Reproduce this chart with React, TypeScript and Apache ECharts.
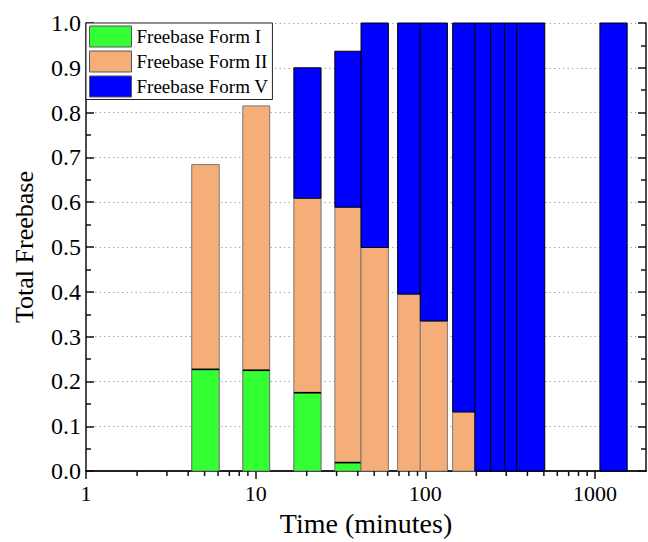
import React, { useEffect, useRef } from 'react';
import * as echarts from 'echarts';

// Bar extents on the time axis (minutes)
const barStart = [4.2, 8.4, 16.8, 29.3, 41.8, 68.7, 93.4, 145, 196, 243, 294, 346, 1070];
const barEnd = [6.1, 12.1, 24.3, 41.8, 60.6, 93.4, 135, 196, 243, 294, 346, 506, 1549];

// Fraction of each form (stacked)
const formI = [0.227, 0.225, 0.175, 0.019, 0, 0, 0, 0, 0, 0, 0, 0, 0];
const formII = [0.457, 0.590, 0.434, 0.570, 0.499, 0.395, 0.335, 0.132, 0, 0, 0, 0, 0];
const formV = [0, 0, 0.291, 0.348, 0.501, 0.605, 0.665, 0.868, 1, 1, 1, 1, 1];

const seriesNames = ['Freebase Form I', 'Freebase Form II', 'Freebase Form V'];
const minorTickValues = [2, 3, 4, 5, 6, 7, 8, 9, 20, 30, 40, 50, 60, 70, 80, 90, 200, 300, 400, 500, 600, 700, 800, 900];

const FONT = 'Liberation Serif, serif';
const fills = ['#33FF33', '#F5AE78', '#0000FF'];
const strokes = ['#666666', '#777777', '#000000'];

export default function App() {
  const ref = useRef<HTMLDivElement>(null);

  useEffect(() => {
    if (!ref.current) return;
    const chart = echarts.init(ref.current, undefined, { renderer: 'svg' });

    const forms = [formI, formII, formV];
    const stacked: number[][][] = forms.map(() => []);
    for (let i = 0; i < barStart.length; i++) {
      let base = 0;
      for (let k = 0; k < forms.length; k++) {
        const top = base + forms[k][i];
        stacked[k].push([barStart[i], barEnd[i], base, top]);
        base = top;
      }
    }

    const makeRender = (k: number) => (params: any, api: any) => {
      const s = api.value(0);
      const e = api.value(1);
      const b = api.value(2);
      const t = api.value(3);
      if (t - b <= 1e-9) return null;
      const p1 = api.coord([s, t]);
      const p2 = api.coord([e, b]);
      const children: any[] = [
        {
          type: 'rect',
          shape: { x: p1[0], y: p1[1], width: p2[0] - p1[0], height: p2[1] - p1[1] },
          style: { fill: fills[k], stroke: strokes[k], lineWidth: 1 },
        },
      ];
      if (k === 1 && b > 1e-9) {
        children.push({
          type: 'line',
          shape: { x1: p1[0], y1: p2[1], x2: p2[0], y2: p2[1] },
          style: { stroke: '#000', lineWidth: 1.6 },
        });
      }
      return { type: 'group', children };
    };

    const axisLineStyle = { color: '#111', width: 1.5 };

    const option: any = {
      animation: false,
      grid: { left: 86, right: 2, top: 23, bottom: 68, containLabel: false },
      legend: {
        data: seriesNames,
        orient: 'vertical',
        left: 86,
        top: 23,
        itemWidth: 42,
        itemHeight: 21,
        itemGap: 3,
        padding: [2.5, 4, 2, 3],
        backgroundColor: '#fff',
        borderColor: '#222',
        borderWidth: 1,
        icon: 'rect',
        selectedMode: false,
        itemStyle: { borderColor: '#555', borderWidth: 1 },
        textStyle: { fontSize: 19, fontFamily: FONT, color: '#000', lineHeight: 21 },
      },
      xAxis: [
        {
          type: 'log',
          logBase: 10,
          min: 1,
          max: 2000,
          position: 'bottom',
          axisLine: { show: true, onZero: false, lineStyle: axisLineStyle },
          axisTick: { show: true, inside: false, length: 8, lineStyle: axisLineStyle },
          axisLabel: {
            fontSize: 22,
            fontFamily: FONT,
            color: '#000',
            margin: 11,
            showMaxLabel: false,
            formatter: (v: number) => String(Math.round(v)),
          },
          splitLine: { show: false },
          name: 'Time (minutes)',
          nameLocation: 'middle',
          nameGap: 35,
          nameTextStyle: { fontSize: 28, fontFamily: FONT, color: '#000' },
        },
        {
          type: 'value',
          position: 'top',
          min: 0,
          max: 1,
          axisLine: { show: true, lineStyle: { color: '#222', width: 2 } },
          axisTick: { show: false },
          axisLabel: { show: false },
          splitLine: { show: false },
        },
      ],
      yAxis: [
        {
          type: 'value',
          min: 0,
          max: 1,
          interval: 0.1,
          position: 'left',
          axisLine: { show: true, lineStyle: axisLineStyle },
          axisTick: { show: true, inside: true, length: 8, lineStyle: axisLineStyle },
          minorTick: { show: true, splitNumber: 2, length: 5, lineStyle: axisLineStyle },
          axisLabel: {
            fontSize: 24,
            fontFamily: FONT,
            color: '#000',
            margin: 5,
            formatter: (v: number) => v.toFixed(1),
          },
          splitLine: { show: true, lineStyle: { type: [1.5, 3], color: '#aaaaaa', width: 1 } },
          name: 'Total Freebase',
          nameLocation: 'middle',
          nameGap: 49,
          nameTextStyle: { fontSize: 26, fontFamily: FONT, color: '#000' },
        },
        {
          type: 'value',
          min: 0,
          max: 1,
          interval: 0.1,
          position: 'right',
          axisLine: { show: true, lineStyle: axisLineStyle },
          axisTick: { show: true, inside: true, length: 8, lineStyle: axisLineStyle },
          minorTick: { show: true, splitNumber: 2, length: 5, lineStyle: axisLineStyle },
          axisLabel: { show: false },
          splitLine: { show: false },
        },
      ],
      series: [
        ...seriesNames.map((name, k) => ({
          name,
          type: 'custom',
          xAxisIndex: 0,
          yAxisIndex: 0,
          itemStyle: { color: fills[k] },
          encode: { x: [0, 1], y: [2, 3] },
          renderItem: makeRender(k),
          data: stacked[k],
          z: 2,
        })),
        {
          name: 'minorTicks',
          type: 'custom',
          xAxisIndex: 0,
          yAxisIndex: 0,
          silent: true,
          clip: false,
          z: 5,
          encode: { x: 0, y: 1 },
          data: minorTickValues.map((v) => [v, 0]),
          renderItem: (params: any, api: any) => {
            const p = api.coord([api.value(0), 0]);
            return {
              type: 'line',
              shape: { x1: p[0], y1: p[1], x2: p[0], y2: p[1] + 5 },
              style: { stroke: '#111', lineWidth: 1.5 },
            };
          },
        },
      ],
    };

    chart.setOption(option);
    return () => chart.dispose();
  }, []);

  return (
    <div
      ref={ref}
      style={{ position: 'fixed', left: 0, top: 0, width: 648, height: 542, background: '#fff' }}
    />
  );
}
